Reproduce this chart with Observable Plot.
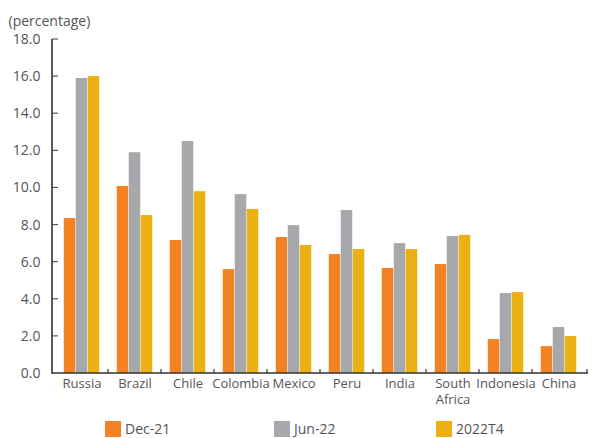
<!DOCTYPE html>
<html>
<head>
<meta charset="utf-8">
<script src="https://cdn.jsdelivr.net/npm/d3@7"></script>
<script src="https://cdn.jsdelivr.net/npm/@observablehq/plot@0.6"></script>
<style>
  html, body { margin: 0; padding: 0; background: #fff; }
  #wrap { position: relative; width: 593px; height: 438px; overflow: hidden; font-family: "Open Sans", sans-serif; }
  .legend-item { position: absolute; top: 421px; display: flex; align-items: center; font-size: 14px; line-height: 16px; color: #555; }
  .legend-item span.sw { display: inline-block; width: 16px; height: 16px; margin-right: 4px; }
</style>
</head>
<body>
<div id="wrap"></div>
<script>
const countries = ["Russia", "Brazil", "Chile", "Colombia", "Mexico", "Peru", "India", "South Africa", "Indonesia", "China"];
const seriesNames = ["Dec-21", "Jun-22", "2022T4"];
const dec21 = [8.35, 10.08, 7.17, 5.6, 7.33, 6.41, 5.66, 5.87, 1.83, 1.45];
const jun22 = [15.9, 11.9, 12.5, 9.64, 7.97, 8.78, 7.0, 7.38, 4.31, 2.48];
const t2022T4 = [16.0, 8.51, 9.8, 8.84, 6.9, 6.68, 6.68, 7.44, 4.36, 1.99];
const yTicks = [0, 2, 4, 6, 8, 10, 12, 14, 16, 18];
const colors = ["#F38322", "#A7A8AB", "#EBB112"];

const seriesValues = [dec21, jun22, t2022T4];
const data = seriesNames.flatMap((s, k) => countries.map((c, i) => ({country: c, series: s, value: seriesValues[k][i]})));

const W = 593, H = 410, mL = 52, mR = 6, mT = 39, mB = 37;
const bw = (W - mL - mR) / countries.length;
const barW = 12;
const inset = (bw - barW) / 2;

function decor(index, scales, values, dims) {
  const {x, y} = scales;
  const g = d3.create("svg:g");
  const x0 = dims.marginLeft, x1 = dims.width - dims.marginRight, yb = y(0);
  yTicks.filter(t => t !== 0).forEach(t => {
    g.append("line").attr("x1", x0).attr("x2", x0 + 6).attr("y1", y(t)).attr("y2", y(t))
      .attr("stroke", "#595959").attr("stroke-width", 1.2);
  });
  countries.slice(1).forEach(c => {
    const xx = x(c);
    g.append("line").attr("x1", xx).attr("x2", xx).attr("y1", yb).attr("y2", yb - 4)
      .attr("stroke", "#333").attr("stroke-width", 1.2);
  });
  g.append("line").attr("x1", x1).attr("x2", x1).attr("y1", yb).attr("y2", yb - 4)
    .attr("stroke", "#333").attr("stroke-width", 1.2);
  g.append("line").attr("x1", x0).attr("x2", x1 + 1).attr("y1", yb).attr("y2", yb)
    .attr("stroke", "#333").attr("stroke-width", 1.6);
  g.append("line").attr("x1", x0).attr("x2", x0).attr("y1", yb + 0.8).attr("y2", y(18))
    .attr("stroke", "#333").attr("stroke-width", 1.6);
  return g.node();
}

const fmt = d3.format(".1f");

const chart = Plot.plot({
  width: W,
  height: H,
  marginLeft: mL,
  marginRight: mR,
  marginTop: mT,
  marginBottom: mB,
  style: {fontFamily: "'Open Sans', sans-serif", fontSize: "14px", color: "#555", background: "#fff"},
  x: {domain: countries, paddingInner: 0, paddingOuter: 0, axis: null},
  y: {domain: [0, 18], axis: null},
  marks: [
    ...seriesNames.map((s, k) => Plot.barY(data.filter(d => d.series === s), {
      x: "country", y: "value", fill: colors[k],
      insetLeft: inset, insetRight: inset, dx: (k - 1) * barW
    })),
    Plot.text(yTicks, {
      y: d => d, frameAnchor: "left", dx: -12, textAnchor: "end",
      text: d => fmt(d), fill: "#555", fontSize: 14
    }),
    Plot.text(countries, {
      x: d => d, frameAnchor: "bottom", dy: 3, lineAnchor: "top", lineHeight: 1.25,
      text: d => d === "South Africa" ? "South\nAfrica" : d, fill: "#555", fontSize: 13
    }),
    Plot.text(["(percentage)"], {
      frameAnchor: "top-left", dx: -44, dy: -23, textAnchor: "start", fill: "#555", fontSize: 14
    }),
    decor
  ]
});

const wrap = document.getElementById("wrap");
wrap.appendChild(chart);

const legendX = [105, 274, 436];
seriesNames.forEach((s, k) => {
  const item = document.createElement("div");
  item.className = "legend-item";
  item.style.left = legendX[k] + "px";
  const sw = document.createElement("span");
  sw.className = "sw";
  sw.style.background = colors[k];
  item.appendChild(sw);
  item.appendChild(document.createTextNode(s));
  wrap.appendChild(item);
});
</script>
</body>
</html>
